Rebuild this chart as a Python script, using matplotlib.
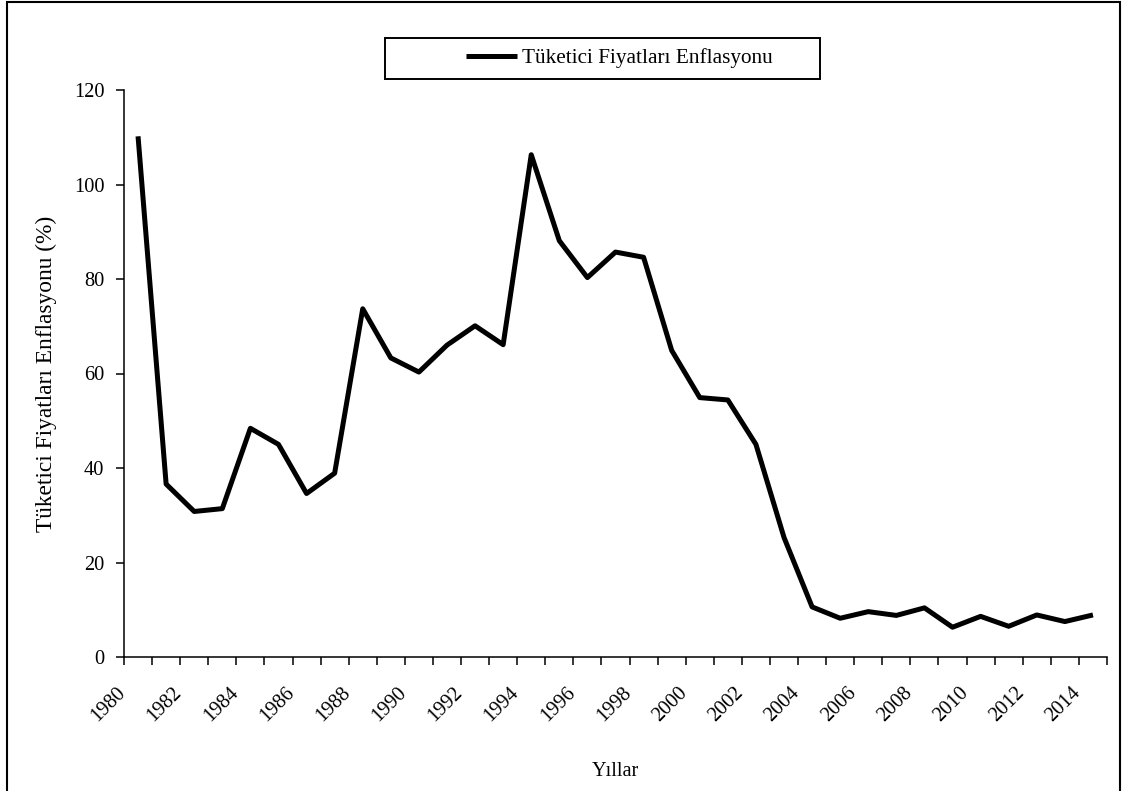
import matplotlib
matplotlib.use("Agg")
import matplotlib.pyplot as plt
import matplotlib.transforms as mtransforms
from matplotlib.patches import Rectangle
import numpy as np

# Consumer price inflation, annual %
years = list(range(1980, 2015))
inflation = [110.2, 36.6, 30.8, 31.4, 48.4, 45.0, 34.6, 38.9, 73.7, 63.3,
             60.3, 66.0, 70.1, 66.1, 106.3, 88.1, 80.3, 85.7, 84.6, 64.9,
             54.9, 54.4, 45.0, 25.3, 10.6, 8.2, 9.6, 8.8, 10.4, 6.3,
             8.6, 6.5, 8.9, 7.5, 8.9]
series_name = "Tüketici Fiyatları Enflasyonu"
y_label = "Tüketici Fiyatları Enflasyonu (%)"
x_label = "Yıllar"
y_ticks = [0, 20, 40, 60, 80, 100, 120]
year_labels = [str(y) for y in years[::2]]

plt.rcParams["font.family"] = ["Liberation Serif", "DejaVu Serif"]
FS_TICK = 14.7
FS_LEG = 15.3
FS_YLAB = 16.8
FS_XLAB = 14.6
W, H = 1122, 791

fig = plt.figure(figsize=(W / 100, H / 100), dpi=100)
fig.patch.set_facecolor("white")
ax = fig.add_axes([124 / W, 1 - 657 / H, 983 / W, 567 / H])
ax.patch.set_visible(False)

x = np.arange(len(years))
line, = ax.plot(x, inflation, color="black", lw=3.6, solid_joinstyle="round",
                solid_capstyle="butt", label=series_name)

ax.set_xlim(-0.5, len(years) - 0.5)
ax.set_ylim(0, 120)
ax.set_yticks(y_ticks)
ax.set_yticklabels([str(v) for v in y_ticks], fontsize=FS_TICK)

# tick marks on category boundaries, labels on category centres
ax.set_xticks(np.arange(len(years) + 1) - 0.5)
ax.set_xticklabels([])
ax.set_xticks(x[::2], minor=True)
ax.set_xticklabels(year_labels, minor=True, fontsize=FS_TICK, rotation=45,
                   ha="right", va="center", rotation_mode="anchor")
ax.tick_params(axis="x", which="minor", length=0, pad=23.8)
ax.tick_params(axis="x", which="major", length=5.8, width=1.1, direction="out")
ax.tick_params(axis="y", which="major", length=5.8, width=1.1, direction="out", pad=8.3)
shift = mtransforms.ScaledTranslation(-15 / 100, 0, fig.dpi_scale_trans)
for lbl in ax.get_xticklabels(minor=True):
    lbl.set_transform(lbl.get_transform() + shift)

for side in ("top", "right"):
    ax.spines[side].set_visible(False)
for side in ("left", "bottom"):
    ax.spines[side].set_linewidth(1.1)

ax.set_ylabel(y_label, fontsize=FS_YLAB)
ax.yaxis.label.set_va("center")
ax.yaxis.set_label_coords((46 - 124) / 983, 0.5)
ax.set_xlabel(x_label, fontsize=FS_XLAB)
ax.xaxis.label.set_va("center")
ax.xaxis.set_label_coords(0.5, (657 - 772) / 567)

# legend box
box = Rectangle((385 / W, 1 - 79 / H), 435 / W, 41 / H,
                transform=fig.transFigure, facecolor="white",
                edgecolor="black", lw=1.4, zorder=2)
fig.add_artist(box)
leg = fig.legend(handles=[line], loc="center left",
                 bbox_to_anchor=(466 / W, 1 - 58.5 / H),
                 bbox_transform=fig.transFigure, frameon=False, borderpad=0,
                 borderaxespad=0, handlelength=2.4, handletextpad=0.25,
                 fontsize=FS_LEG)
leg.set_zorder(3)

# outer frame
fig.add_artist(Rectangle((7 / W, -0.02), (1120 - 7) / W, 1.02 - 2 / H,
                         transform=fig.transFigure, fill=False,
                         edgecolor="black", lw=1.5, clip_on=False, zorder=4))

fig.savefig("out.png", dpi=100)
